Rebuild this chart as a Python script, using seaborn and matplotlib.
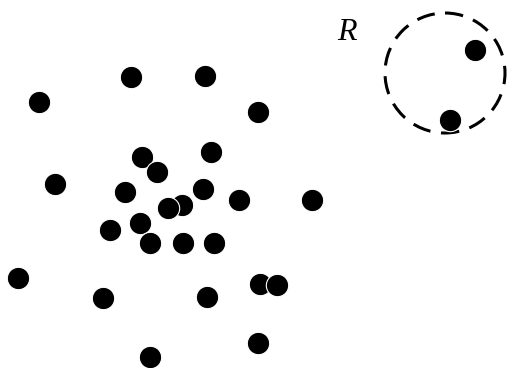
import matplotlib
matplotlib.use("Agg")
import matplotlib.pyplot as plt
import seaborn as sns
import pandas as pd
from matplotlib.patches import Circle

# point positions (pixel coords, y down)
x_vals = [131, 205, 39, 258, 475, 450, 142, 211, 157, 55, 125, 203, 239, 312,
          182, 168, 140, 110, 150, 183, 214, 18, 103, 207, 260, 277, 258, 150]
y_vals = [77, 76, 102, 112, 50, 120, 157, 152, 172, 184, 192, 189, 200, 200,
          205, 208, 223, 230, 243, 243, 243, 278, 298, 297, 284, 285, 343, 357]

# region R
circle_center = (445, 73)
circle_radius = 60
label_text = "R"

df = pd.DataFrame({"x": x_vals, "y": y_vals})

sns.set_style("white")
fig = plt.figure(figsize=(5.07, 3.68), dpi=100)
ax = fig.add_axes([0, 0, 1, 1])

sns.scatterplot(data=df, x="x", y="y", ax=ax, s=260, color="black",
                edgecolor="white", linewidth=0.8, zorder=3)

ring = Circle(circle_center, circle_radius, fill=False, edgecolor="black",
              linewidth=2.2, linestyle=(0, (6, 3.5)), zorder=2)
ax.add_patch(ring)

ax.text(347, 33, label_text, fontsize=23, fontstyle="italic", color="black",
        family=["Liberation Serif", "DejaVu Serif"], ha="center", va="center")

ax.set_xlim(0, 507)
ax.set_ylim(368, 0)
ax.axis("off")

fig.savefig("out.png", dpi=100)
